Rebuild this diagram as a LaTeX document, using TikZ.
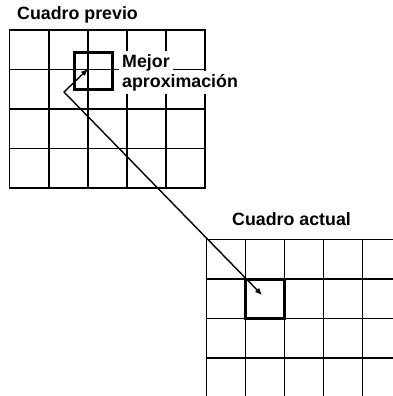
\documentclass[tikz,border=0pt]{standalone}
\usepackage{fontspec}
\setmainfont{Liberation Sans}
\usetikzlibrary{positioning,arrows.meta}

\begin{document}
\begin{tikzpicture}[x=1pt,y=-1pt,
    gridline/.style={line width=1.8pt},
    thickbox/.style={line width=3pt},
    motion/.style={line width=1.4pt,{Latex[length=7pt,width=6pt]}-{Latex[length=7pt,width=6pt]}},
    txt/.style={font=\bfseries\fontsize{17.8}{20}\selectfont,inner sep=0pt,anchor=base west},
    blank/.style={txt,fill=white,inner sep=3pt}]
  \useasboundingbox (0,0) rectangle (393,396);

  % previous frame
  \draw[gridline] (9.5,30) rectangle (205,188);
  \draw[gridline] (48.6,30)--(48.6,188) (87.7,30)--(87.7,188)
        (126.8,30)--(126.8,188) (165.9,30)--(165.9,188);
  \draw[gridline] (9.5,69.5)--(205,69.5) (9.5,109)--(205,109)
        (9.5,148.5)--(205,148.5);

  % current frame, running off the page
  \draw[gridline] (393,239.5)--(206.5,239.5)--(206.5,396);
  \draw[gridline] (245.5,239.5)--(245.5,396) (284.5,239.5)--(284.5,396)
        (323.5,239.5)--(323.5,396) (362.5,239.5)--(362.5,396);
  \draw[gridline] (206.5,279)--(393,279) (206.5,318.5)--(393,318.5)
        (206.5,358)--(393,358);

  % blocks
  \draw[thickbox] (74,53) rectangle (112,89);
  \draw[thickbox] (245.5,279) rectangle (284.5,318.5);

  % labels
  \node[txt] (previo) at (17,20) {Cuadro previo};
  \node[txt] (actual) at (232,225) {Cuadro actual};
  \node[blank] (mejor) at (119,67) {Mejor};
  \node[blank] (aprox) at (119,87) {aproximación};

  % motion vector
  \coordinate (cur) at (262,295);
  \coordinate (bend) at (64,92);
  \coordinate (best) at (88,69);
  \draw[motion] (cur) -- (bend) -- (best);
\end{tikzpicture}
\end{document}
